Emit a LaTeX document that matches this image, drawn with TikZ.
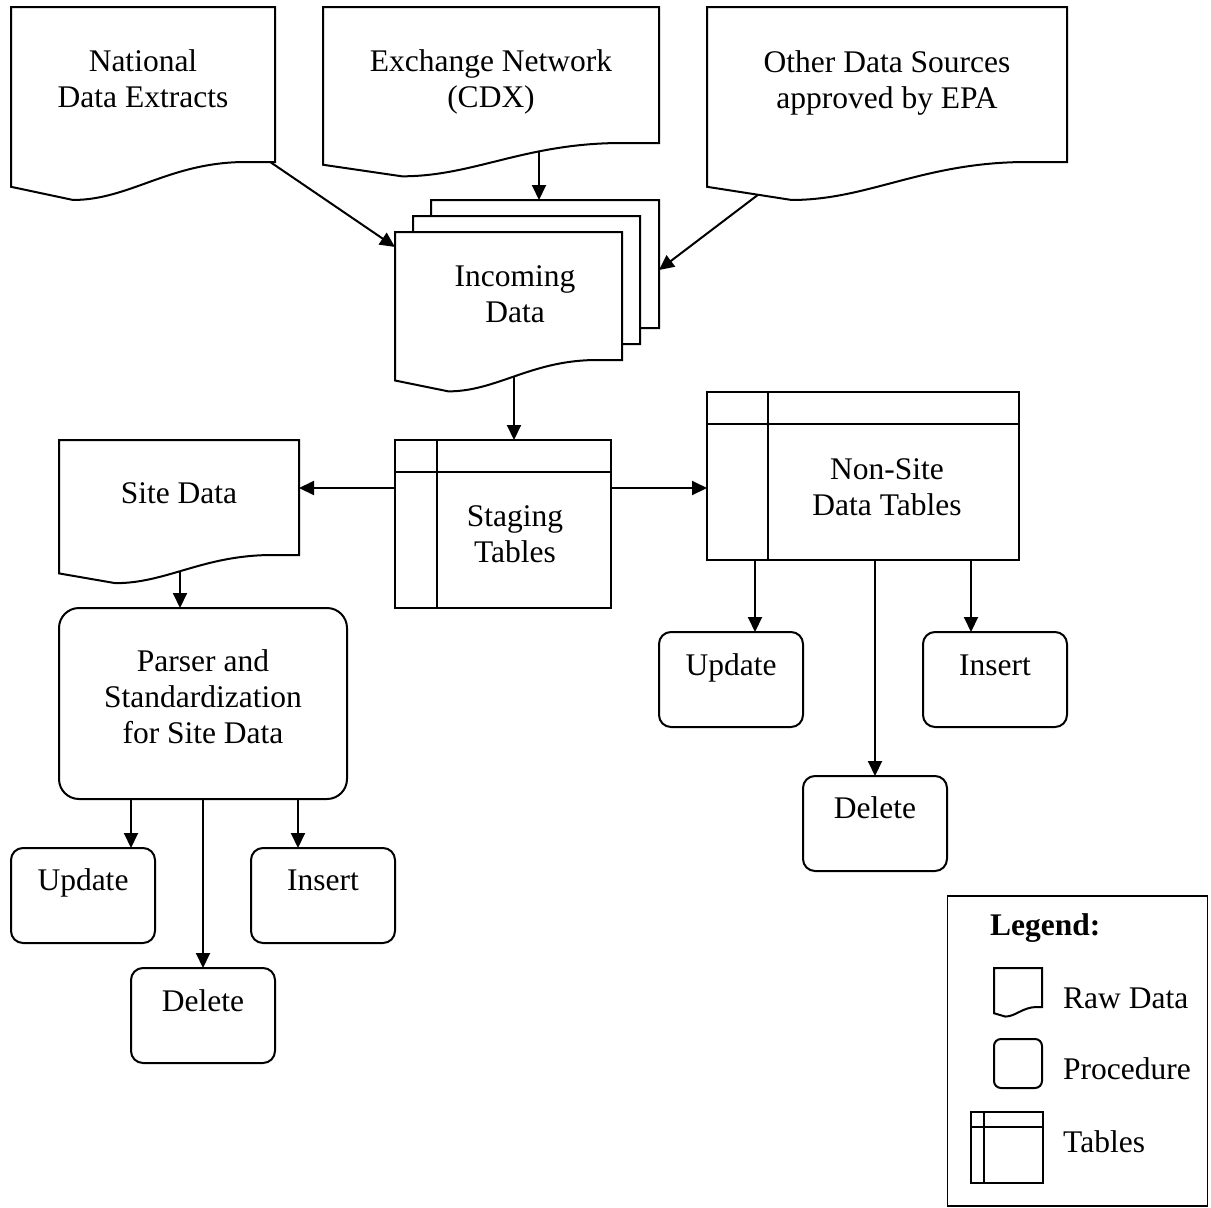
\documentclass[tikz,border=0pt]{standalone}
\usepackage{fontspec}
\setmainfont{Liberation Serif}
\usetikzlibrary{arrows.meta,calc}
\pgfdeclarelayer{bg}
\pgfsetlayers{bg,main}
\tikzset{
  ln/.style={line width=2pt},
  docline/.style={ln, fill=white, line join=miter},
  area/.style={rectangle, inner sep=0pt, outer sep=0pt, draw=none},
  tbl/.style={rectangle, draw, ln, fill=white, inner sep=0pt, outer sep=0pt},
  proc/.style={rectangle, draw, ln, fill=white, rounded corners=12pt, inner sep=0pt, outer sep=0pt},
  lbl/.style={font=\fontsize{31.5}{36}\selectfont, align=center, inner sep=0pt},
  arr/.style={ln, -{Triangle[length=15pt,width=14pt]}},
}
% document (raw data) shape: name, left, top, right, bottom-right
\newcommand\docshape[5]{%
  \pgfmathsetmacro\dW{#4-#2}\pgfmathsetmacro\dH{#5-#3}%
  \path[docline,draw] (#2,#3) -- (#4,#3) -- (#4,#5) -- ({#4-0.11*\dW},#5)
    .. controls ({#2+0.6*\dW},#5) and ({#2+0.45*\dW},{#5+0.245*\dH}) .. ({#2+0.235*\dW},{#5+0.245*\dH})
    -- (#2,{#5+0.16*\dH}) -- cycle;
  \node[area, minimum width=\dW pt, minimum height=\dH pt] (#1) at ({(#2+#4)/2},{(#3+#5)/2}) {};
}
\begin{document}
\begin{tikzpicture}[x=1pt,y=-1pt]
\useasboundingbox (0,0) rectangle (1211,1208);

% ---------- source documents ----------
\docshape{nde}{11}{7}{275}{162}
\node[lbl] (nde-t) at (143,79.2) {National\\Data Extracts};
\docshape{cdx}{323}{7}{659}{143}
\node[lbl] (cdx-t) at (491,82) {Exchange Network\\(CDX)};
\docshape{ods}{707}{7}{1067}{162}
\node[lbl] (ods-t) at (887,82.7) {Other Data Sources\\approved by EPA};

% ---------- incoming data (stack) ----------
\docshape{inc3}{431}{200}{659}{328}
\docshape{inc2}{413}{216}{640}{344}
\docshape{inc}{395}{232}{622}{360}
\node[lbl] (inc-t) at (515,294.5) {Incoming\\Data};

% ---------- tables ----------
\node[tbl, minimum width=216pt, minimum height=168pt] (stg) at (503,524) {};
\draw[ln] ($(stg.north west)+(0,32)$) -- ($(stg.north east)+(0,32)$);
\draw[ln] ($(stg.north west)+(42,0)$) -- ($(stg.south west)+(42,0)$);
\node[lbl] (stg-t) at (515,534.4) {Staging\\Tables};

\node[tbl, minimum width=312pt, minimum height=168pt] (nst) at (863,476) {};
\draw[ln] ($(nst.north west)+(0,32)$) -- ($(nst.north east)+(0,32)$);
\draw[ln] ($(nst.north west)+(61,0)$) -- ($(nst.south west)+(61,0)$);
\node[lbl] (nst-t) at (887,487.5) {Non-Site\\Data Tables};

% ---------- site data ----------
\docshape{sd}{59}{440}{299}{555}
\node[lbl, anchor=base] (sd-t) at (179,503) {Site Data};

% ---------- procedures ----------
\node[proc, rounded corners=20pt, minimum width=288pt, minimum height=191pt] (par) at (203,703.5) {};
\node[lbl] (par-t) at (203,697) {Parser and\\Standardization\\for Site Data};

\node[proc, minimum width=144pt, minimum height=95pt] (lupd) at (83,895.5) {};
\node[lbl, anchor=base] (lupd-t) at (83,890) {Update};
\node[proc, minimum width=144pt, minimum height=95pt] (lins) at (323,895.5) {};
\node[lbl, anchor=base] (lins-t) at (323,890) {Insert};
\node[proc, minimum width=144pt, minimum height=95pt] (ldel) at (203,1015.5) {};
\node[lbl, anchor=base] (ldel-t) at (203,1011) {Delete};

\node[proc, minimum width=144pt, minimum height=95pt] (rupd) at (731,679.5) {};
\node[lbl, anchor=base] (rupd-t) at (731,675) {Update};
\node[proc, minimum width=144pt, minimum height=95pt] (rins) at (995,679.5) {};
\node[lbl, anchor=base] (rins-t) at (995,675) {Insert};
\node[proc, minimum width=144pt, minimum height=95pt] (rdel) at (875,823.5) {};
\node[lbl, anchor=base] (rdel-t) at (875,818) {Delete};

% ---------- legend ----------
\node[rectangle, draw, line width=1.5pt, inner sep=0pt, minimum width=260pt, minimum height=310pt] (leg) at (1077.5,1051) {};
\node[lbl, anchor=base west, font=\fontsize{31.5}{36}\selectfont\bfseries] (leg-t) at (990,935) {Legend:};
\docshape{legraw}{994}{968}{1042}{1007}
\node[lbl, anchor=base west] (legraw-t) at (1063,1008) {Raw Data};
\node[proc, rounded corners=7pt, minimum width=48pt, minimum height=49pt] (legproc) at (1018,1063.5) {};
\node[lbl, anchor=base west] (legproc-t) at (1063,1079) {Procedure};
\node[tbl, minimum width=72pt, minimum height=71pt] (legtbl) at (1007,1147.5) {};
\draw[ln] ($(legtbl.north west)+(0,15)$) -- ($(legtbl.north east)+(0,15)$);
\draw[ln] ($(legtbl.north west)+(13,0)$) -- ($(legtbl.south west)+(13,0)$);
\node[lbl, anchor=base west] (legtbl-t) at (1063,1152) {Tables};

% ---------- connector helper coordinates ----------
\coordinate (nde-out) at (262,156.4);
\coordinate (inc-inl) at (395,247);
\coordinate (ods-out) at (763,191);
\coordinate (inc-inr) at (659,270);
\coordinate (c539) at (539,0);
\coordinate (c514) at (514,0);
\coordinate (c180) at (180,0);
\coordinate (c131) at (131,0);
\coordinate (c298) at (298,0);
\coordinate (c755) at (755,0);
\coordinate (c971) at (971,0);
\coordinate (r488) at (0,488);

% ---------- connectors (behind shapes) ----------
\begin{pgfonlayer}{bg}
\draw[arr] (nde-out) -- (inc-inl);
\draw[arr] (cdx.center -| c539) -- (inc3.north -| c539);
\draw[arr] (ods-out) -- (inc-inr);
\draw[arr] (inc.center -| c514) -- (stg.north -| c514);
\draw[arr] (stg.west |- r488) -- (sd.east |- r488);
\draw[arr] (stg.east |- r488) -- (nst.west |- r488);
\draw[arr] (sd.center -| c180) -- (par.north -| c180);
\draw[arr] (par.south -| c131) -- (lupd.north -| c131);
\draw[arr] (par.south -| c298) -- (lins.north -| c298);
\draw[arr] (par.south) -- (ldel.north);
\draw[arr] (nst.south -| c755) -- (rupd.north -| c755);
\draw[arr] (nst.south -| c971) -- (rins.north -| c971);
\draw[arr] (nst.south -| rdel.north) -- (rdel.north);
\end{pgfonlayer}
\end{tikzpicture}
\end{document}
